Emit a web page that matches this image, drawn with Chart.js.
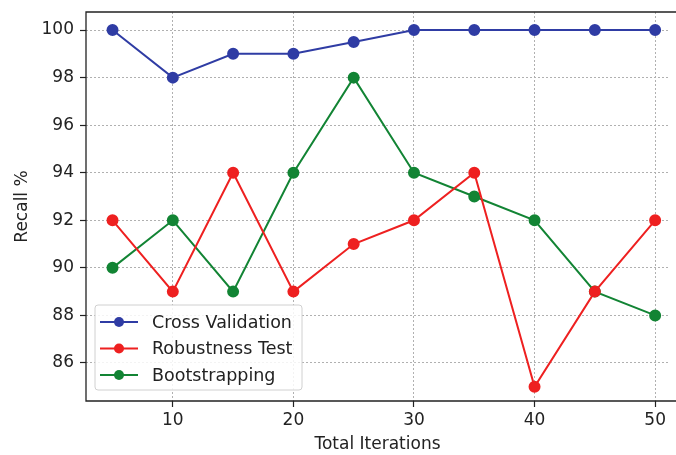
<!DOCTYPE html>
<html>
<head>
<meta charset="utf-8">
<script src="https://cdn.jsdelivr.net/npm/chart.js@4.4.1/dist/chart.umd.min.js"></script>
<style>
  html, body { margin: 0; padding: 0; background: #fff; overflow: hidden; }
  #wrap { width: 676px; height: 455px; }
</style>
</head>
<body>
<div id="wrap"><canvas id="chartRecall" width="676" height="455"></canvas></div>
<script>
const iterations = [5, 10, 15, 20, 25, 30, 35, 40, 45, 50];
const crossValidation = [100, 98, 99, 99, 99.5, 100, 100, 100, 100, 100];
const robustnessTest = [92, 89, 94, 89, 91, 92, 94, 85, 89, 92];
const bootstrapping = [90, 92, 89, 94, 98, 94, 93, 92, 89, 88];
const xTicks = [10, 20, 30, 40, 50];
const yTicks = [86, 88, 90, 92, 94, 96, 98, 100];

const FONT = "'DejaVu Sans', sans-serif";

function toPoints(values) {
  return values.map((v, i) => ({ x: iterations[i], y: v }));
}

function makeSet(label, values, color) {
  return {
    label,
    data: toPoints(values),
    borderColor: color,
    backgroundColor: color,
    borderWidth: 2,
    pointRadius: 5,
    pointHoverRadius: 5,
    tension: 0,
  };
}

// frame around the plot area; the right edge is cut off in the original,
// so top and bottom lines run to the canvas edge
const framePlugin = {
  id: "frame",
  afterDraw(chart) {
    const { ctx, chartArea: a } = chart;
    ctx.save();
    ctx.strokeStyle = "#222";
    ctx.lineWidth = 1.3;
    ctx.beginPath();
    ctx.moveTo(chart.width + 2, a.top);
    ctx.lineTo(a.left, a.top);
    ctx.lineTo(a.left, a.bottom);
    ctx.lineTo(chart.width + 2, a.bottom);
    ctx.stroke();
    ctx.restore();
  },
};

// legend drawn inside the plot, lower left
const innerLegend = {
  id: "innerLegend",
  afterDraw(chart) {
    const { ctx, chartArea: a } = chart;
    const x0 = a.left + 9, y0 = a.bottom - 96;
    const w = 207, h = 85;
    ctx.save();
    ctx.fillStyle = "rgba(255,255,255,0.85)";
    ctx.strokeStyle = "#d0d0d0";
    ctx.lineWidth = 1;
    ctx.beginPath();
    ctx.roundRect(x0, y0, w, h, 3);
    ctx.fill();
    ctx.stroke();
    ctx.font = "17.5px " + FONT;
    ctx.textBaseline = "middle";
    chart.data.datasets.forEach((ds, i) => {
      const y = y0 + 17 + i * 26.5;
      ctx.strokeStyle = ds.borderColor;
      ctx.lineWidth = 2;
      ctx.beginPath();
      ctx.moveTo(x0 + 5, y);
      ctx.lineTo(x0 + 43, y);
      ctx.stroke();
      ctx.fillStyle = ds.borderColor;
      ctx.beginPath();
      ctx.arc(x0 + 24, y, 5, 0, Math.PI * 2);
      ctx.fill();
      ctx.fillStyle = "#222";
      ctx.fillText(ds.label, x0 + 57, y + 1);
    });
    ctx.restore();
  },
};

const data = {
  datasets: [
    makeSet("Cross Validation", crossValidation, "#2f3ca4"),
    makeSet("Robustness Test", robustnessTest, "#ee2020"),
    makeSet("Bootstrapping", bootstrapping, "#128434"),
  ],
};

const grid = {
  color: "#b0b0b0",
  lineWidth: 1,
  tickLength: 6,
  tickColor: "#222",
  tickWidth: 1.2,
};

const config = {
  type: "line",
  data,
  options: {
    responsive: false,
    animation: false,
    layout: { padding: { top: 12, right: 0, left: 0, bottom: 0 } },
    plugins: {
      legend: { display: false },
      tooltip: { enabled: false },
    },
    scales: {
      x: {
        type: "linear",
        min: 2.8,
        max: 51.15,
        afterBuildTicks: (scale) => {
          scale.ticks = xTicks.map((v) => ({ value: v }));
        },
        afterFit: (scale) => {
          scale.height = 54;
          scale.paddingLeft = 0;
          scale.paddingRight = 0;
        },
        grid,
        border: { display: false, dash: [2, 2] },
        ticks: {
          font: { family: FONT, size: 17 },
          color: "#222",
          padding: 3,
          maxRotation: 0,
        },
        title: {
          display: true,
          text: "Total Iterations",
          font: { family: FONT, size: 17 },
          color: "#222",
          padding: { top: 0, bottom: 0 },
        },
      },
      y: {
        type: "linear",
        min: 84.4,
        max: 100.76,
        afterBuildTicks: (scale) => {
          scale.ticks = yTicks.map((v) => ({ value: v }));
        },
        afterFit: (scale) => {
          scale.width = 86;
          scale.paddingTop = 0;
          scale.paddingBottom = 0;
        },
        grid,
        border: { display: false, dash: [2, 2] },
        ticks: {
          font: { family: FONT, size: 17 },
          color: "#222",
          padding: 6,
        },
        title: {
          display: true,
          text: "Recall %",
          font: { family: FONT, size: 17 },
          color: "#222",
          padding: { top: 12, bottom: 4 },
        },
      },
    },
  },
  plugins: [framePlugin, innerLegend],
};

const chartRecall = new Chart(document.getElementById("chartRecall"), config);
</script>
</body>
</html>
